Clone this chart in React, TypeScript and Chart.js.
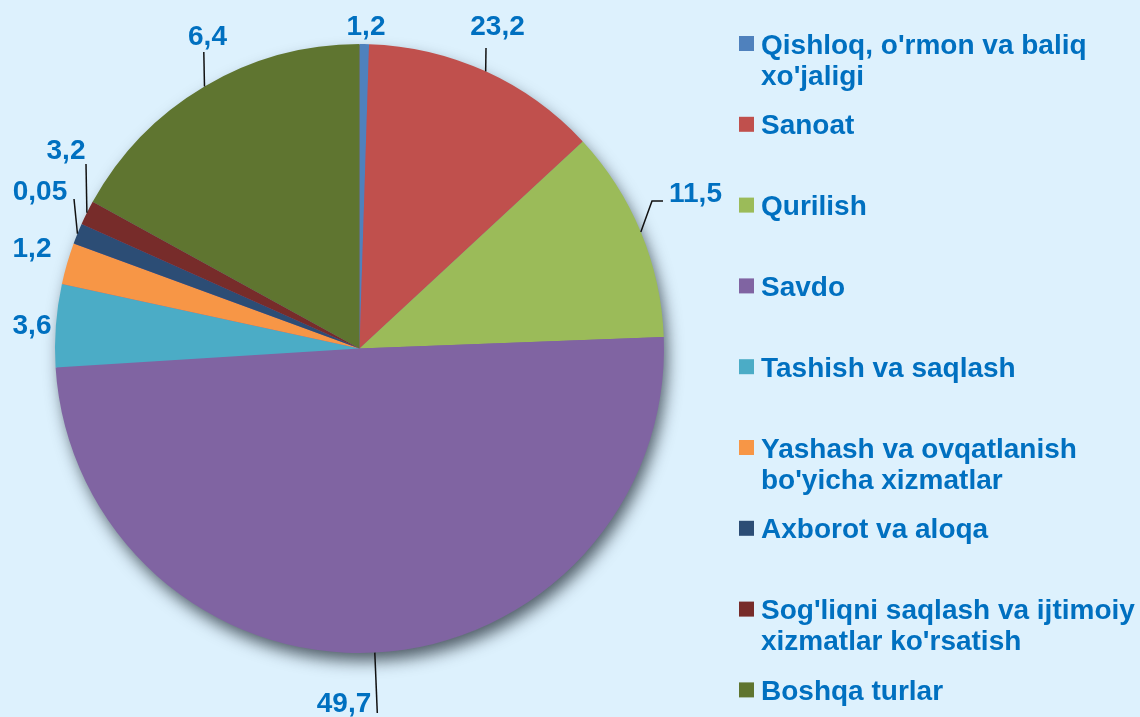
import React, { useEffect, useRef } from "react";
import { Chart, registerables } from "chart.js";

Chart.register(...registerables);

// ---------- data ----------
const categories = [
  "Qishloq, o'rmon va baliq xo'jaligi",
  "Sanoat",
  "Qurilish",
  "Savdo",
  "Tashish va saqlash",
  "Yashash va ovqatlanish bo'yicha xizmatlar",
  "Axborot va aloqa",
  "Sog'liqni saqlash va ijtimoiy xizmatlar ko'rsatish",
  "Boshqa turlar",
];

// slice sizes as drawn in the picture (percent of the circle)
const sliceShares = [0.5, 12.6, 11.3, 49.6, 4.4, 2.2, 1.1, 1.3, 17.0];

// value labels printed next to the slices
const valueLabels = ["1,2", "23,2", "11,5", "49,7", "3,6", "1,2", "0,05", "3,2", "6,4"];

const legendLines = [
  ["Qishloq, o'rmon va baliq", "xo'jaligi"],
  ["Sanoat"],
  ["Qurilish"],
  ["Savdo"],
  ["Tashish va saqlash"],
  ["Yashash va ovqatlanish", "bo'yicha xizmatlar"],
  ["Axborot va aloqa"],
  ["Sog'liqni saqlash va ijtimoiy", "xizmatlar ko'rsatish"],
  ["Boshqa turlar"],
];

const sliceColors = [
  "#4F81BD",
  "#C0504D",
  "#9BBB59",
  "#8064A2",
  "#4BACC6",
  "#F79646",
  "#2C4D75",
  "#772C2A",
  "#5F7530",
];

// ---------- layout / style ----------
const W = 1140;
const H = 717;
const BG = "#DDF1FD";
const TEXT_BLUE = "#0070C0";

// label text anchor: [centerX, baseline]
const labelPos: [number, number][] = [
  [366, 35],
  [497.5, 35],
  [695.5, 202],
  [344, 712],
  [32, 334],
  [32, 256.5],
  [40, 200],
  [66, 158.5],
  [207.5, 45],
];

// leader line bend points (after the arc edge point); null = no leader
const leaderPts: ([number, number][] | null)[] = [
  null,
  [[486, 48]],
  [[652, 201], [663, 201]],
  [[377.3, 713]],
  null,
  null,
  [[74, 199]],
  [[86, 164]],
  [[203.8, 52]],
];

const LEGEND_MARK_X = 739;
const LEGEND_TEXT_X = 761;
const LEGEND_TOP = 43.5;
const LEGEND_STEP = 80.8;
const LEGEND_LINE = 31;

const decorPlugin = {
  id: "decor",
  beforeDraw(chart: any) {
    const ctx = chart.ctx as CanvasRenderingContext2D;
    ctx.save();
    ctx.fillStyle = BG;
    ctx.fillRect(0, 0, chart.width, chart.height);
    ctx.restore();
  },
  beforeDatasetsDraw(chart: any) {
    const meta = chart.getDatasetMeta(0);
    const arc = meta.data[0];
    if (!arc) return;
    const { x, y, outerRadius } = arc.getProps(["x", "y", "outerRadius"], true);
    const ctx = chart.ctx as CanvasRenderingContext2D;
    ctx.save();
    ctx.shadowColor = "rgba(20,30,40,0.7)";
    ctx.shadowBlur = 16;
    ctx.shadowOffsetX = 4;
    ctx.shadowOffsetY = 9;
    ctx.fillStyle = "#8064A2";
    ctx.beginPath();
    ctx.arc(x, y, outerRadius - 1, 0, Math.PI * 2);
    ctx.fill();
    ctx.restore();
  },
  afterDatasetsDraw(chart: any) {
    const ctx = chart.ctx as CanvasRenderingContext2D;
    const meta = chart.getDatasetMeta(0);

    // leader lines
    ctx.save();
    ctx.strokeStyle = "#111111";
    ctx.lineWidth = 1.5;
    meta.data.forEach((el: any, i: number) => {
      const pts = leaderPts[i];
      if (!pts) return;
      const { x, y, startAngle, endAngle, outerRadius } = el.getProps(
        ["x", "y", "startAngle", "endAngle", "outerRadius"],
        true
      );
      const mid = (startAngle + endAngle) / 2;
      ctx.beginPath();
      ctx.moveTo(x + Math.cos(mid) * outerRadius, y + Math.sin(mid) * outerRadius);
      pts.forEach(([px, py]) => ctx.lineTo(px, py));
      ctx.stroke();
    });
    ctx.restore();

    // value labels
    ctx.save();
    ctx.fillStyle = TEXT_BLUE;
    ctx.font = 'bold 28px "Liberation Sans", Arial, sans-serif';
    ctx.textAlign = "center";
    ctx.textBaseline = "alphabetic";
    valueLabels.forEach((t, i) => {
      const [lx, ly] = labelPos[i];
      ctx.fillText(t, lx, ly);
    });
    ctx.restore();

    // legend
    ctx.save();
    ctx.font = 'bold 28px "Liberation Sans", Arial, sans-serif';
    ctx.textBaseline = "alphabetic";
    ctx.textAlign = "left";
    legendLines.forEach((lines, i) => {
      const cy = LEGEND_TOP + i * LEGEND_STEP;
      ctx.fillStyle = sliceColors[i];
      ctx.fillRect(LEGEND_MARK_X, cy - 7.5, 15, 15);
      ctx.fillStyle = TEXT_BLUE;
      lines.forEach((ln, j) => {
        ctx.fillText(ln, LEGEND_TEXT_X, cy + j * LEGEND_LINE + 10);
      });
    });
    ctx.restore();
  },
};

export default function App() {
  const canvasRef = useRef<HTMLCanvasElement | null>(null);

  useEffect(() => {
    const canvas = canvasRef.current;
    if (!canvas) return;
    const chart = new Chart(canvas, {
      type: "pie",
      data: {
        labels: categories,
        datasets: [
          {
            data: sliceShares,
            backgroundColor: sliceColors,
            borderWidth: 0,
          },
        ],
      },
      options: {
        responsive: false,
        animation: false,
        devicePixelRatio: 1,
        layout: { padding: { left: 55, top: 44, right: 476, bottom: 64 } },
        plugins: {
          legend: { display: false },
          tooltip: { enabled: false },
        },
      },
      plugins: [decorPlugin],
    } as any);
    return () => chart.destroy();
  }, []);

  return (
    <div style={{ position: "absolute", left: 0, top: 0, width: W, height: H, background: BG }}>
      <canvas ref={canvasRef} width={W} height={H} style={{ display: "block" }} />
    </div>
  );
}
